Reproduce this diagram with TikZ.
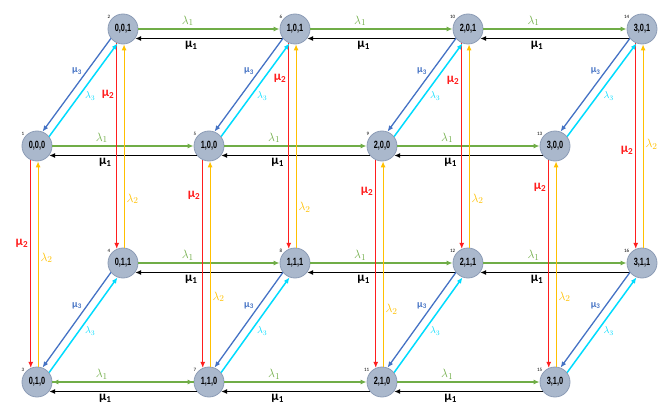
\documentclass[tikz,border=0pt]{standalone}
\usepackage{fontspec}
\setmainfont{Carlito}
\newfontfamily\statefont[FakeStretch=0.7]{Liberation Sans}
\usepackage{xcolor}
\usetikzlibrary{arrows.meta}

\definecolor{statefill}{RGB}{170,184,204}
\definecolor{stateline}{RGB}{140,156,182}
\definecolor{lamgreen}{RGB}{112,173,71}
\definecolor{mured}{RGB}{255,30,30}
\definecolor{lamyellow}{RGB}{255,192,0}
\definecolor{mublue}{RGB}{68,114,196}
\definecolor{lamcyan}{RGB}{0,220,255}

\begin{document}
\begin{tikzpicture}[x=1pt, y=-1pt,
      state/.style={circle, draw=stateline, fill=statefill, line width=0.8pt,
                    minimum size=30pt, inner sep=0pt,
                    font=\statefont\bfseries\fontsize{10.5}{10.5}\selectfont},
      num/.style={font=\fontsize{5}{5}\selectfont, inner sep=0pt, label distance=1pt},
      tip/.style={-{Latex[length=6pt,width=5pt]}},
      lamh/.style={tip, draw=lamgreen, line width=2pt},
      muh/.style={tip, draw=black, line width=1.8pt},
      muv/.style={tip, draw=mured, line width=1.1pt},
      lamv/.style={tip, draw=lamyellow, line width=1.1pt},
      mud/.style={tip, draw=mublue, line width=1.3pt},
      lamd/.style={tip, draw=lamcyan, line width=1.5pt},
      lab/.style={inner sep=2pt, font=\fontsize{13}{13}\selectfont},
      slab/.style={inner sep=1pt, font=\fontsize{10}{10}\selectfont}
    ]
      \useasboundingbox (0,0) rectangle (667,412);

      % states i,j,k
      \foreach \i/\fx/\bx/\na/\nb/\nc/\nd in {0/37/123/1/2/3/4, 1/209/295/5/6/7/8,
                                            2/382/468/9/10/11/12, 3/555/642/13/14/15/16} {
        \node[state, label={[num]140:\na}] (n\i00) at (\fx,146) {\i,0,0};
        \node[state, label={[num]140:\nb}] (n\i01) at (\bx,29)  {\i,0,1};
        \node[state, label={[num]140:\nc}] (n\i10) at (\fx,382) {\i,1,0};
        \node[state, label={[num]140:\nd}] (n\i11) at (\bx,263) {\i,1,1};
      }

      % lambda1 / mu1
      \foreach \i/\ii in {0/1, 1/2, 2/3}
        \foreach \r in {00, 01, 10, 11} {
          \draw[lamh] (n\i\r.east) -- node[lab, above, pos=.35, text=lamgreen] {$\lambda_1$} (n\ii\r.west);
          \draw[muh] (n\ii\r.218) -- node[lab, below, pos=.62] {\bfseries μ\textsubscript{1}} (n\i\r.322);
        }
      \draw[lamh, {Latex[length=6pt,width=5pt]}-] (n010.east) -- (n110.west);

      % lambda2 / mu2
      \foreach \i/\k/\pr/\py in {0/0/.4/.53, 0/1/.25/.24, 1/0/.17/.34, 1/1/.17/.2,
                                 2/0/.15/.28, 2/1/.18/.24, 3/0/.13/.34, 3/1/.52/.51} {
        \draw[muv] (n\i0\k.246) -- node[lab, left, pos=\pr, text=mured] {\bfseries μ\textsubscript{2}} (n\i1\k.114);
        \draw[lamv] (n\i1\k.86) -- node[lab, right, pos=\py, text=lamyellow] {$\lambda_2$} (n\i0\k.274);
      }

      % lambda3 / mu3
      \foreach \i in {0,...,3}
        \foreach \j in {0,1} {
          \draw[mud] (n\i\j1.218) -- node[slab, above left, pos=.4, text=mublue] {\bfseries μ\textsubscript{3}} (n\i\j0.69);
          \draw[lamd] (n\i\j0.38) -- node[slab, below right, pos=.5, text=lamcyan] {$\lambda_3$} (n\i\j1.249);
        }
    \end{tikzpicture}
\end{document}
